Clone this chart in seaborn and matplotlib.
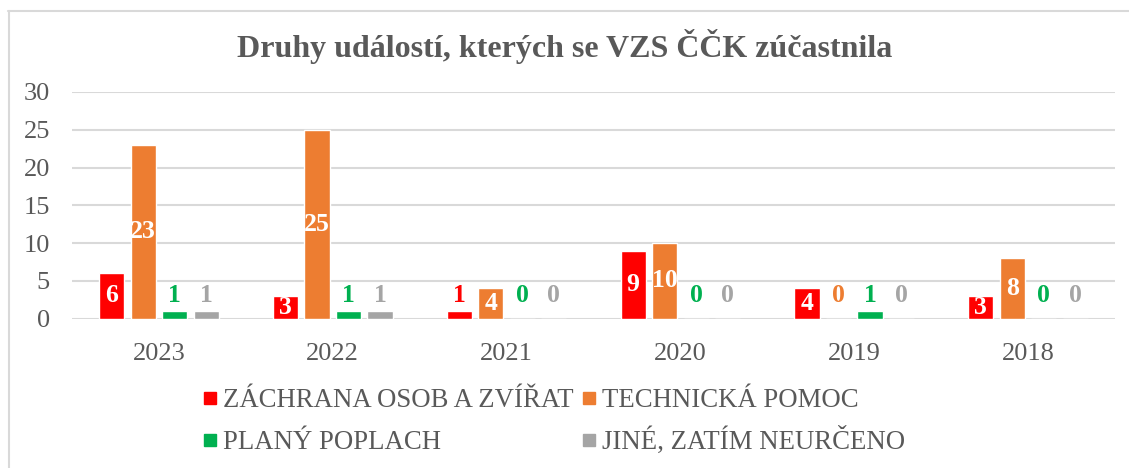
import pandas as pd
import numpy as np
import seaborn as sns
from matplotlib import pyplot as plt
from matplotlib.lines import Line2D

years = ['2023', '2022', '2021', '2020', '2019', '2018']
series = ['ZÁCHRANA OSOB A ZVÍŘAT', 'TECHNICKÁ POMOC', 'PLANÝ POPLACH', 'JINÉ, ZATÍM NEURČENO']
zachrana = [6, 3, 1, 9, 4, 3]
technicka = [23, 25, 4, 10, 0, 8]
plany = [1, 1, 0, 0, 1, 0]
jine = [1, 1, 0, 0, 0, 0]
colors = ['#FF0000', '#ED7D31', '#00B050', '#A5A5A5']
text_col = '#595959'

rows = []
for name, vals in zip(series, [zachrana, technicka, plany, jine]):
    for y, v in zip(years, vals):
        rows.append({'rok': y, 'pocet': v, 'druh': name})
df = pd.DataFrame(rows)

sns.set_style('white')
plt.rcParams['font.family'] = ['Liberation Serif', 'DejaVu Serif']

fig = plt.figure(figsize=(11.29, 4.68), dpi=100)
ax = fig.add_axes([72/1129, 1 - 318.5/468, (1115-72)/1129, (318.5-92)/468])

sns.barplot(data=df, x='rok', y='pocet', hue='druh', order=years, hue_order=series,
            palette=colors, saturation=1, width=0.725, gap=0.2, errorbar=None,
            legend=False, ax=ax)

ax.set_ylim(0, 30)
ax.set_xlim(-0.5, 5.5)
ax.set_yticks(range(0, 31, 5))
ax.yaxis.grid(True, color='#D9D9D9', linewidth=1.5)
ax.set_axisbelow(True)
for s in ax.spines.values():
    s.set_visible(False)
ax.set_xlabel('')
ax.set_ylabel('')
ax.tick_params(axis='both', length=0, labelsize=19, labelcolor=text_col)
ax.tick_params(axis='y', pad=16)
ax.tick_params(axis='x', pad=18)

# popisky hodnot
for cont, col in zip(ax.containers, colors):
    for bar in cont:
        v = bar.get_height()
        x = bar.get_x() + bar.get_width() / 2
        if v >= 3:
            ax.text(x, v / 2, f'{int(v)}', ha='center', va='center', color='white',
                    fontsize=18.5, fontweight='bold')
        else:
            ax.text(x, 3, f'{int(v)}', ha='center', va='center', color=col,
                    fontsize=18.5, fontweight='bold')

fig.text(0.5, 1 - 46/468, 'Druhy událostí, kterých se VZS ČČK zúčastnila', ha='center',
         va='center', fontsize=23, fontweight='bold', color=text_col)

# legenda: 2 radky x 2 sloupce, kazda polozka zvlast kvuli zarovnani radku
leg_x = [203, 582]
leg_y = [413, 455]
for i, (name, c) in enumerate(zip(series, colors)):
    h = Line2D([], [], marker='s', linestyle='', markersize=8.5, color=c)
    leg = fig.legend([h], [name], loc='lower left',
                     bbox_to_anchor=(leg_x[i % 2] / 1129, 1 - leg_y[i // 2] / 468),
                     frameon=False, fontsize=19.3, labelcolor=text_col, handletextpad=0.25,
                     handlelength=0.5, borderaxespad=0, borderpad=0)

# ramecek grafu
fig.add_artist(Line2D([8/1129, 1], [1 - 10.5/468, 1 - 10.5/468], transform=fig.transFigure,
                      color='#D9D9D9', linewidth=1.5))
fig.add_artist(Line2D([8.5/1129, 8.5/1129], [0, 1 - 10.5/468], transform=fig.transFigure,
                      color='#D9D9D9', linewidth=1.5))

fig.savefig('out.png', dpi=100)
